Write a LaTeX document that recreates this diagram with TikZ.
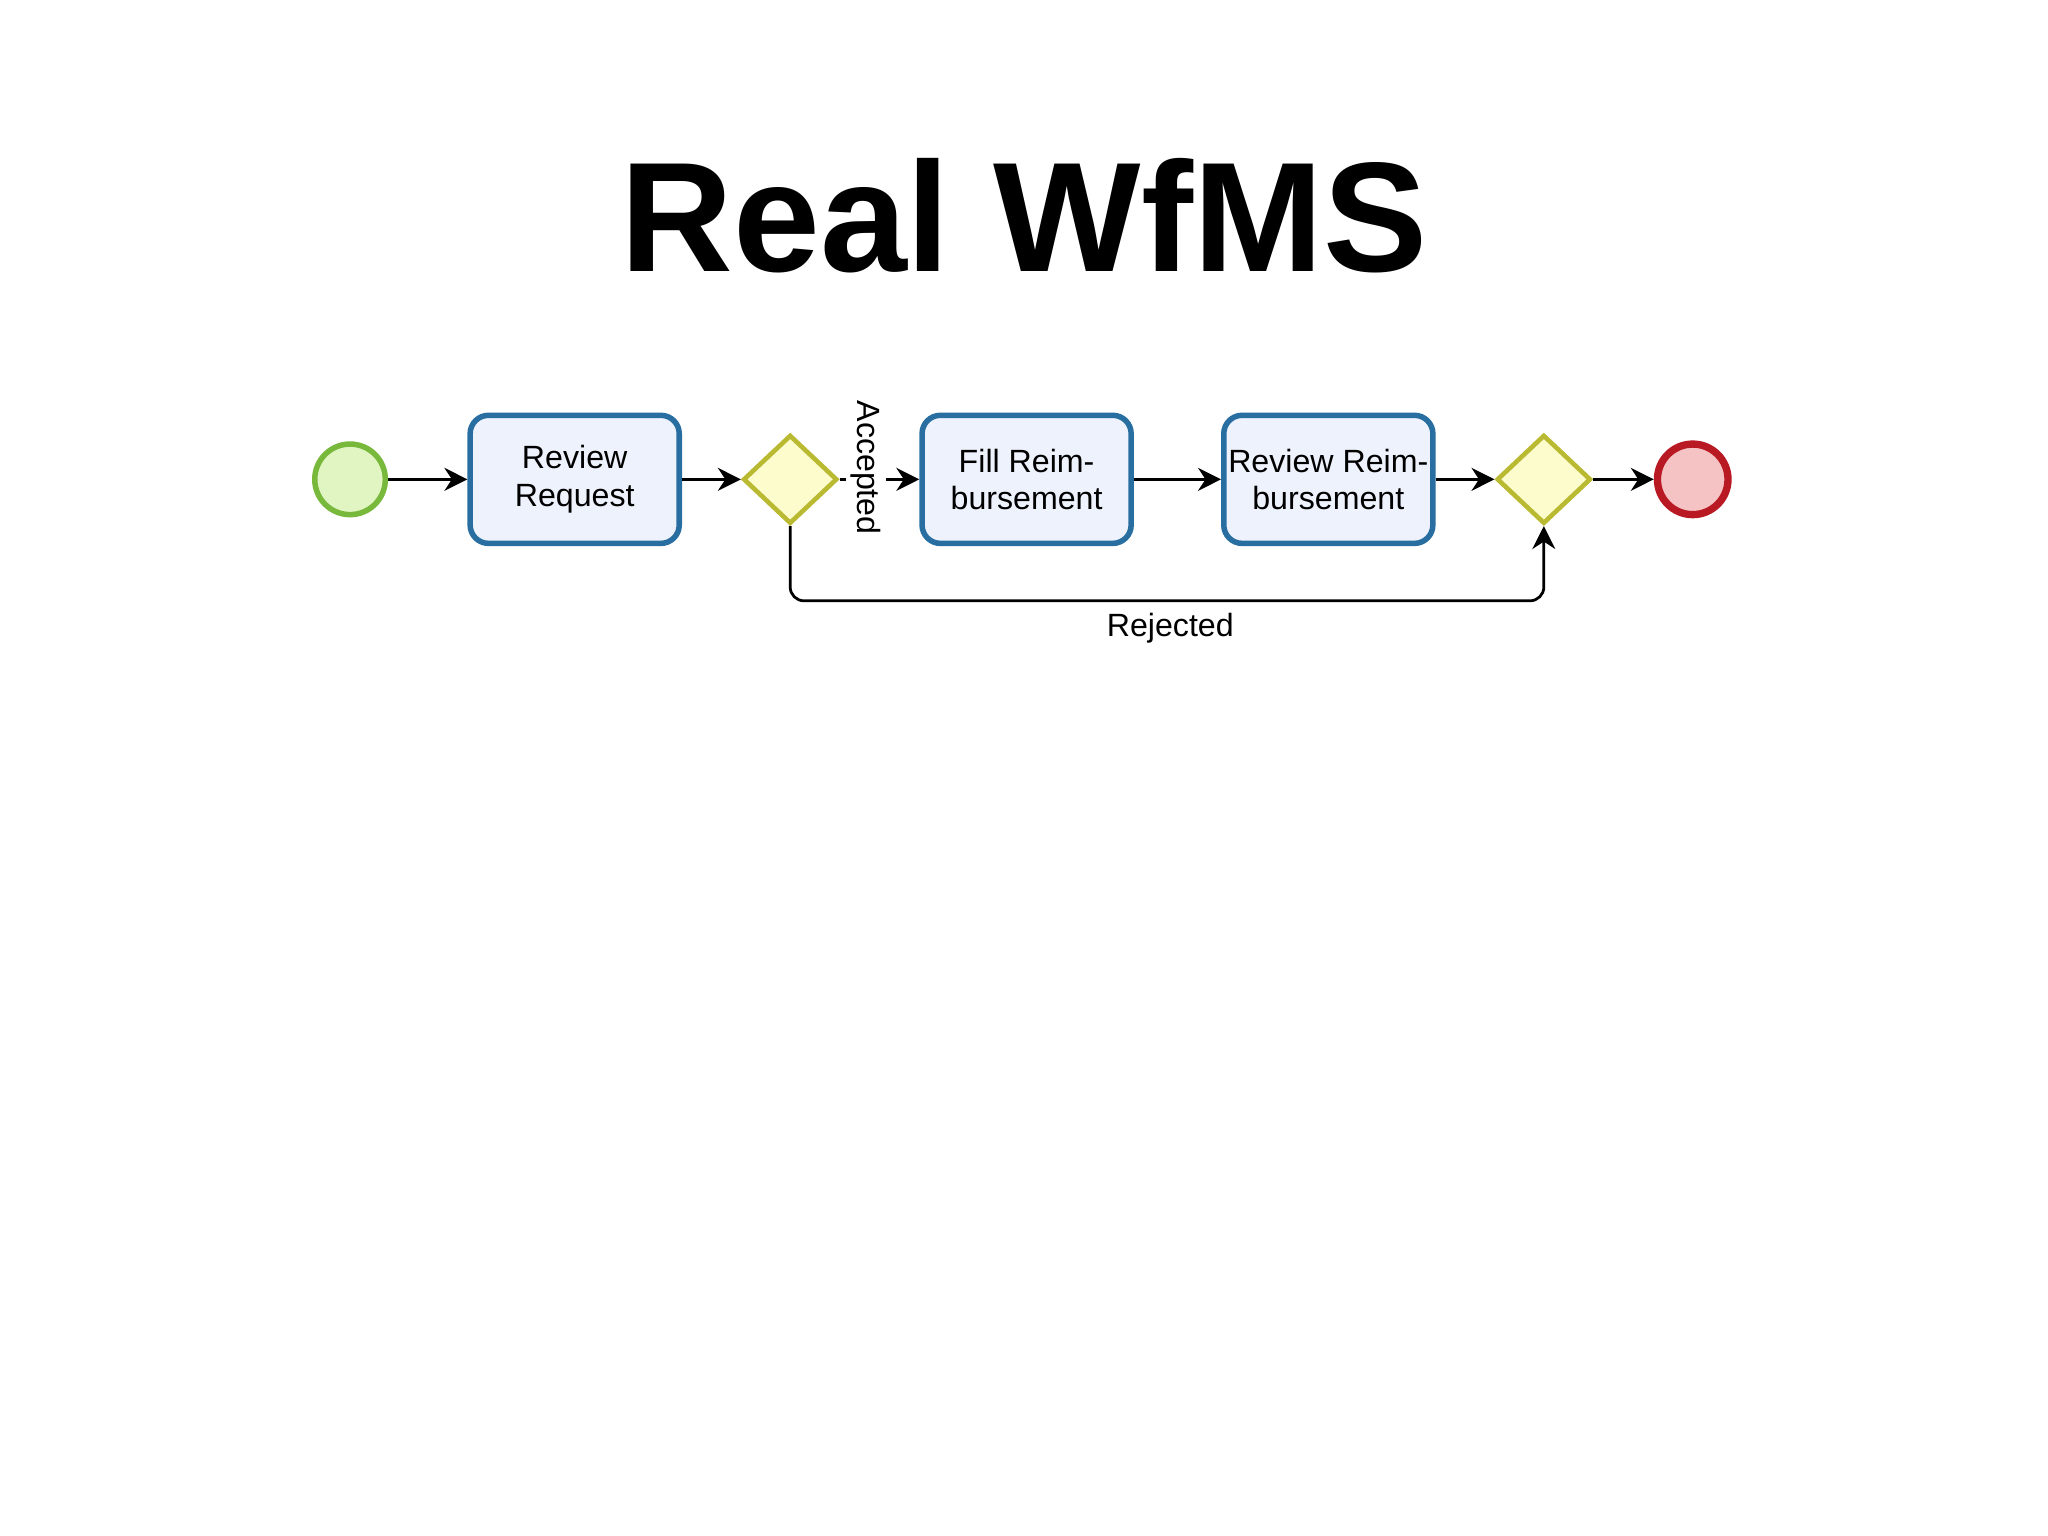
\documentclass[tikz,border=0pt]{standalone}
\usepackage{fontspec}
\setmainfont{Liberation Sans}
\usetikzlibrary{shapes.geometric,arrows.meta}
\definecolor{sg}{RGB}{120,185,60}\definecolor{sgf}{RGB}{225,245,195}
\definecolor{tb}{RGB}{40,110,160}\definecolor{tbf}{RGB}{238,242,252}
\definecolor{gy}{RGB}{185,185,50}\definecolor{gyf}{RGB}{252,252,205}
\definecolor{er}{RGB}{185,25,35}\definecolor{erf}{RGB}{245,195,195}
\begin{document}
\begin{tikzpicture}[x=0.01cm,y=-0.01cm,
 task/.style={draw=tb,fill=tbf,line width=1.2pt,rounded corners=4pt,minimum width=1.6cm,minimum height=0.98cm,align=center,font=\fontsize{7}{8.2}\selectfont,inner sep=0pt},
 gw/.style={diamond,draw=gy,fill=gyf,line width=1pt,minimum width=0.72cm,minimum height=0.68cm,inner sep=0pt},
 flow/.style={-{Stealth[length=5pt,width=5pt]},line width=0.6pt},
 lbl/.style={font=\fontsize{7}{8.2}\selectfont}]
\useasboundingbox (0,0) rectangle (1568,1176);
\node[font=\bfseries\fontsize{34}{38}\selectfont] (title) at (784,165) {Real WfMS};
\node[circle,draw=sg,fill=sgf,line width=1.2pt,minimum size=0.54cm,inner sep=0pt] (s) at (268,367) {};
\node[task] (t1) at (440,367) {Review\\Request};
\node[gw] (g1) at (605,367) {};
\node[task] (t2) at (786,367) {Fill Reim-\\bursement};
\node[task] (t3) at (1017,367) {Review Reim-\\bursement};
\node[gw] (g2) at (1182,367) {};
\node[circle,draw=er,fill=erf,line width=1.6pt,minimum size=0.54cm,inner sep=0pt] (e) at (1296,367) {};
\draw[flow] (s) -- (t1);
\draw[flow] (t1) -- (g1);
\draw[flow] (g1) -- (t2);
\draw[flow] (t2) -- (t3);
\draw[flow] (t3) -- (g2);
\draw[flow] (g2) -- (e);
\coordinate (c1) at (605,460); \coordinate (c2) at (1182,460);
\draw[flow,rounded corners=3pt] (g1.south) -- (c1) -- (c2) -- (g2.south);
\node[lbl,rotate=-90,fill=white,inner sep=1pt] (acc) at (663,358) {Accepted};
\node[lbl] (rej) at (896,481) {Rejected};
\end{tikzpicture}
\end{document}
